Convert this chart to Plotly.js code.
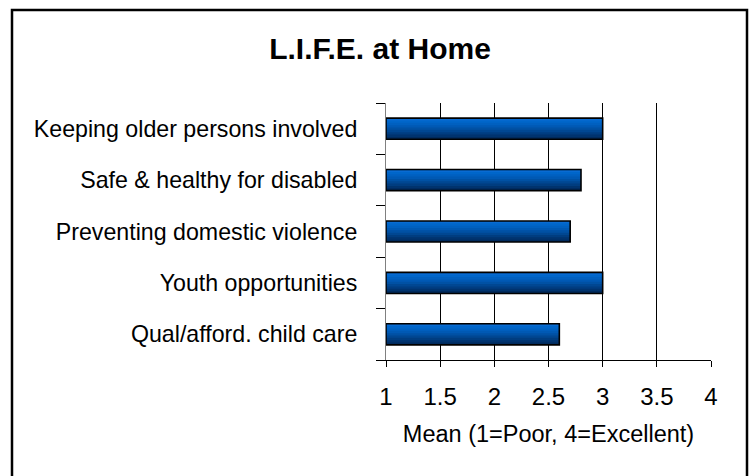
<!DOCTYPE html>
<html>
<head>
<meta charset="utf-8">
<script src="https://cdn.plot.ly/plotly-3.0.1.min.js"></script>
<style>html,body{margin:0;padding:0;background:#fff;}#chart{width:749px;height:476px;}</style>
</head>
<body>
<div id="chart"></div>
<script>
// Data (bottom to top in category order)
const categories = [
  "Qual/afford. child care",
  "Youth opportunities",
  "Preventing domestic violence",
  "Safe & healthy for disabled",
  "Keeping older persons involved"
];
const meanValues = [2.6, 3.0, 2.7, 2.8, 3.0];
const tickVals = [1, 1.5, 2, 2.5, 3, 3.5, 4];
const tickLabels = ["1", "1.5", "2", "2.5", "3", "3.5", "4"];
const chartTitle = "L.I.F.E. at Home";
const xTitle = "Mean (1=Poor, 4=Excellent)";

// Styling: simulated vertical gradient via overlapping strips (dark bottom -> light top)
const barWidth = 0.41;
const stripColors = ["#002a5c", "#00336e", "#003d80", "#004792", "#0051a4", "#0059b4", "#0060c0", "#0066ca", "#096bd2"];
const FONT = "Liberation Sans, Arial, sans-serif";

const traces = [];
const n = stripColors.length;
const h = barWidth / n;
stripColors.forEach((c, k) => {
  traces.push({
    type: "bar", orientation: "h",
    x: meanValues.map(v => v - 1), base: 1, y: categories,
    width: barWidth - k * h, offset: -barWidth / 2 + k * h,
    marker: {color: c, line: {width: 0}},
    hoverinfo: "skip", showlegend: false
  });
});
// outline
traces.push({
  type: "bar", orientation: "h",
  x: meanValues.map(v => v - 1), base: 1, y: categories,
  width: barWidth, offset: -barWidth / 2,
  marker: {color: "rgba(0,0,0,0)", line: {width: 1.6, color: "#000"}},
  showlegend: false
});

const layout = {
  width: 749, height: 476,
  margin: {l: 386, r: 38, t: 103, b: 116, pad: 0},
  paper_bgcolor: "#fff", plot_bgcolor: "#fff",
  barmode: "overlay",
  font: {family: FONT, color: "#000"},
  title: {
    text: chartTitle,
    font: {family: FONT, size: 30, weight: "bold", color: "#000"},
    x: 380 / 749, xref: "container", xanchor: "center",
    y: 1 - 48 / 476, yref: "container", yanchor: "middle"
  },
  xaxis: {
    range: [1, 4], tickvals: tickVals, ticktext: tickLabels,
    showgrid: true, gridcolor: "#000", gridwidth: 1,
    zeroline: false, showline: true, linecolor: "#000", linewidth: 1,
    ticks: "outside", ticklen: 6, tickcolor: "#000",
    tickfont: {family: FONT, size: 24, color: "#000"},
    ticklabelstandoff: 9,
    title: {text: xTitle, font: {family: FONT, size: 23.5, color: "#000"}, standoff: 16},
    fixedrange: true
  },
  yaxis: {
    type: "category", categoryorder: "array", categoryarray: categories,
    range: [-0.5, 4.5],
    showgrid: false, zeroline: false,
    showline: true, linecolor: "#808080", linewidth: 1,
    ticks: "outside", tickson: "boundaries", ticklen: 9, tickcolor: "#000",
    tickfont: {family: FONT, size: 23.2, color: "#000"},
    ticklabelstandoff: 23,
    fixedrange: true
  },
  shapes: [{
    type: "rect", xref: "paper", yref: "paper",
    x0: (12 - 386) / 325, x1: (747 - 386) / 325,
    y0: (360 - 479) / 257, y1: (360 - 10) / 257,
    line: {color: "#000", width: 2.5}, fillcolor: "rgba(0,0,0,0)", layer: "below"
  }]
};

Plotly.newPlot("chart", traces, layout, {staticPlot: true, displayModeBar: false});
</script>
</body>
</html>
